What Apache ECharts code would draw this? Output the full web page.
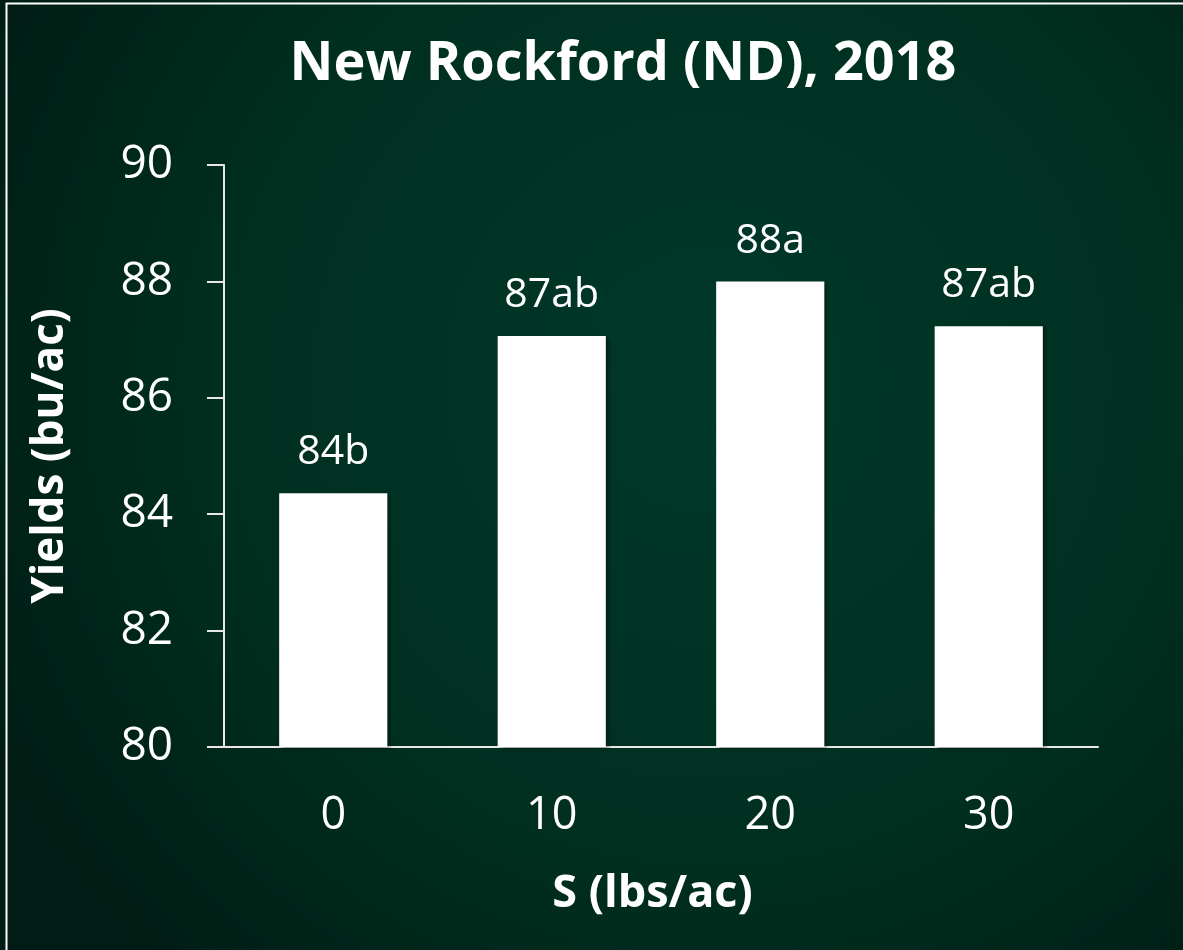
<!DOCTYPE html>
<html><head><meta charset="utf-8">
<script src="https://cdn.jsdelivr.net/npm/echarts@6/dist/echarts.min.js"></script>
<style>html,body{margin:0;padding:0;background:#002a1e}#c{width:1183px;height:950px}</style>
</head><body><div id="c"></div>
<script>
var categories = ['0', '10', '20', '30'];
var yields = [84.36, 87.06, 88.0, 87.23];
var letters = ['84b', '87ab', '88a', '87ab'];
var yTicks = { min: 80, max: 90, interval: 2 };

var chart = echarts.init(document.getElementById('c'));
var font = '"Open Sans", sans-serif';
chart.setOption({
  animation: false,
  graphic: [
    { type: 'rect', z: -10, shape: { x: 0, y: 0, width: 1183, height: 950 },
      style: { fill: { type: 'radial', x: 0.6, y: 0.4, r: 0.85,
        colorStops: [{ offset: 0, color: '#00392a' }, { offset: 0.6, color: '#002f20' }, { offset: 1, color: '#001c14' }] } } },
    { type: 'rect', z: -9, shape: { x: 6.5, y: 3.5, width: 1190, height: 960 },
      style: { fill: 'none', stroke: '#ffffff', lineWidth: 2 } }
  ],
  title: {
    text: 'New Rockford (ND), 2018', left: 618, top: 33, textAlign: 'center',
    textStyle: { color: '#fff', fontFamily: font, fontWeight: 'bold', fontSize: 54 }
  },
  grid: { left: 224, right: 85, top: 165, bottom: 203, containLabel: false },
  xAxis: {
    type: 'category', data: categories,
    name: 'S (lbs/ac)', nameLocation: 'middle', nameGap: 125,
    nameTextStyle: { color: '#fff', fontFamily: font, fontWeight: 'bold', fontSize: 45, padding: [0, 17, 0, 0] },
    axisLine: { lineStyle: { color: '#e8e8e8', width: 2 } },
    axisTick: { show: false },
    axisLabel: { color: '#fff', fontFamily: font, fontSize: 45, margin: 47 }
  },
  yAxis: {
    type: 'value', min: yTicks.min, max: yTicks.max, interval: yTicks.interval,
    name: 'Yields (bu/ac)', nameLocation: 'middle', nameGap: 152, nameRotate: 90,
    nameTextStyle: { color: '#fff', fontFamily: font, fontWeight: 'bold', fontSize: 44 },
    axisLine: { show: true, lineStyle: { color: '#e8e8e8', width: 2 } },
    axisTick: { show: true, length: 17, lineStyle: { color: '#e8e8e8', width: 2 } },
    splitLine: { show: false },
    axisLabel: { color: '#fff', fontFamily: font, fontSize: 46, margin: 51 }
  },
  series: [{
    type: 'bar', data: yields, barWidth: '49.5%',
    itemStyle: { color: '#ffffff', shadowColor: 'rgba(0,0,0,0.35)', shadowBlur: 4, shadowOffsetX: 3, shadowOffsetY: 2 },
    label: { show: true, position: 'top', distance: 20, color: '#fff', fontFamily: font, fontSize: 41,
      formatter: function (p) { return letters[p.dataIndex]; } }
  }]
});
</script></body></html>
